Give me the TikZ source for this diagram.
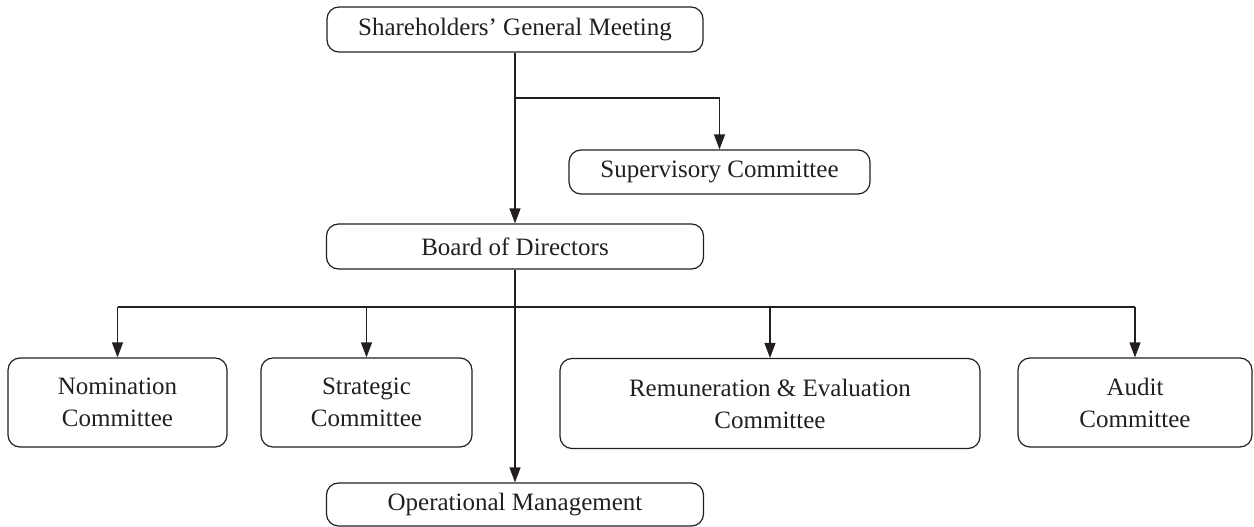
\documentclass[tikz,border=0pt]{standalone}
\usepackage{fontspec}
\setmainfont{Liberation Serif}
\usetikzlibrary{arrows.meta}
\definecolor{ink}{HTML}{231F20}
\begin{document}
\begin{tikzpicture}[x=1pt,y=-1pt,
  box/.style={draw=ink, line width=1.2pt, rounded corners=12pt, text=ink,
    inner sep=0pt, align=center, font=\fontsize{25}{32}\selectfont},
  link/.style={draw=ink, line width=1.2pt},
  arr/.style={link, -{Triangle[length=15pt,width=11pt]}}]
\useasboundingbox (0,0) rectangle (1254,527);

% governing bodies
\node[box, minimum width=376pt, minimum height=45pt] (sgm) at (515,29.5) {Shareholders' General Meeting};
\node[box, minimum width=301pt, minimum height=44pt] (sup) at (719.5,172) {Supervisory Committee};
\node[box, minimum width=377pt, minimum height=45pt] (bod) at (515,246.5) {Board of Directors};
\node[box, minimum width=377pt, minimum height=43pt] (ops) at (515,504.5) {Operational Management};

% board committees
\node[box, minimum width=219pt, minimum height=89pt] (nom) at (117.5,402.5) {Nomination\\Committee};
\node[box, minimum width=211pt, minimum height=89pt] (str) at (366.5,402.5) {Strategic\\Committee};
\node[box, minimum width=420pt, minimum height=90pt] (rem) at (770,403.5) {Remuneration \& Evaluation\\Committee};
\node[box, minimum width=234pt, minimum height=89pt] (aud) at (1135,402.5) {Audit\\Committee};

% junctions
\coordinate (j1) at (515,98);
\coordinate (j2) at (515,307);

% connectors
\draw[arr] (sgm.south) -- (bod.north);
\draw[arr] (j1) -| (sup.north);
\draw[arr] (bod.south) -- (ops.north);
\draw[link] (j2 -| nom.north) -- (j2 -| aud.north);
\draw[arr] (j2 -| nom.north) -- (nom.north);
\draw[arr] (j2 -| str.north) -- (str.north);
\draw[arr] (j2 -| rem.north) -- (rem.north);
\draw[arr] (j2 -| aud.north) -- (aud.north);
\end{tikzpicture}
\end{document}
